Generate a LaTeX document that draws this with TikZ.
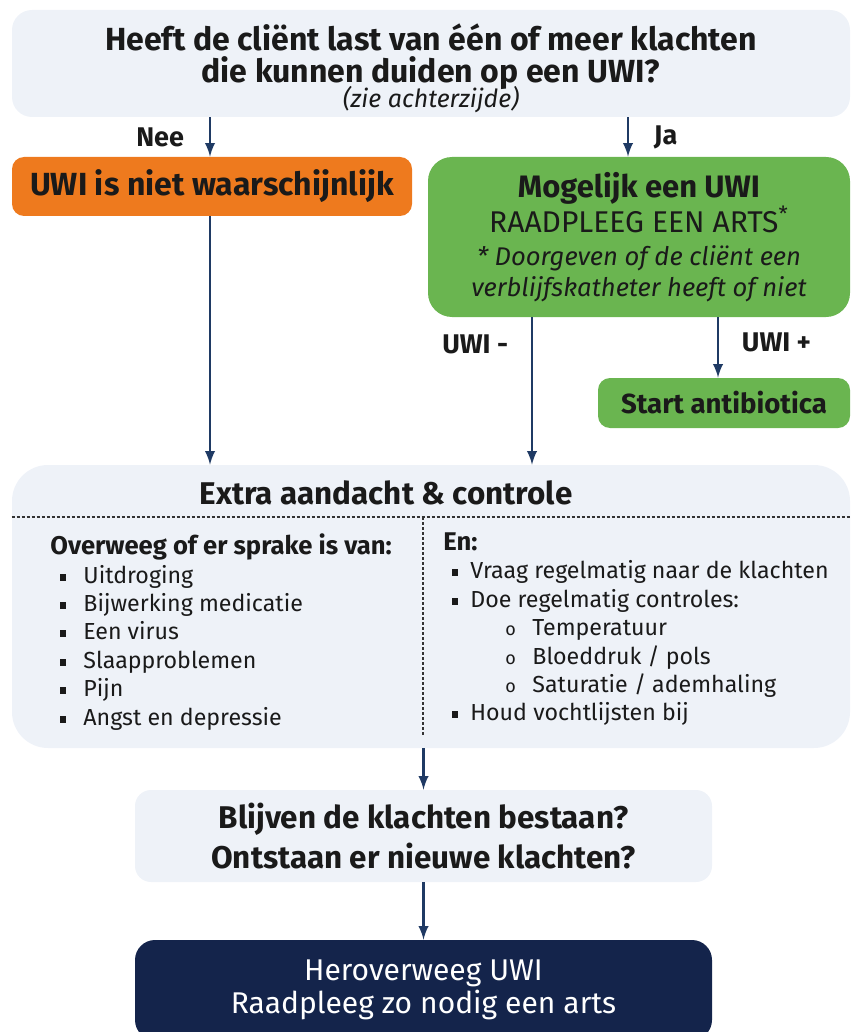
\documentclass[tikz,border=0pt]{standalone}
\usepackage{fontspec}
\setmainfont{Fira Sans}
\usepackage{tikz}
\usetikzlibrary{positioning}
\definecolor{lichtblauw}{HTML}{EEF2F8}
\definecolor{oranje}{HTML}{EE7A1E}
\definecolor{groen}{HTML}{6AB550}
\definecolor{donkerblauw}{HTML}{14244B}
\definecolor{pijlkleur}{HTML}{1F3A64}
\definecolor{tekst}{HTML}{1A1A1A}
\tikzset{
  >=latex,
}
\tikzstyle{blok}=[rounded corners=10pt,inner sep=0pt,align=center,text=tekst]
\tikzstyle{lichtblok}=[blok,fill=lichtblauw]
\tikzstyle{groenblok}=[blok,fill=groen]
\tikzstyle{pijl}=[->,line width=1.3pt,pijlkleur]
\tikzstyle{keuze}=[font=\fontsize{13.5}{14}\selectfont\bfseries,text=tekst]
\tikzstyle{lijst}=[anchor=west,inner sep=0pt,text height=8pt,text depth=2.5pt,
  font=\fontsize{11.6}{14}\selectfont,text=tekst]
\tikzstyle{stippel}=[line width=.6pt,gray!40!black,dash pattern=on 1.5pt off 1pt]
\newcommand{\blokje}[1][11.5pt]{\makebox[#1][l]{\rule[1.5pt]{3pt}{3.5pt}}}
\newcommand{\rondje}{\makebox[13.5pt][l]{\fontsize{9}{10}\selectfont o}}

\begin{document}
\begin{tikzpicture}[x=0.5pt,y=-0.5pt]
  \useasboundingbox (0,0) rectangle (855,1032);

  % vraag bovenaan
  \node[lichtblok,minimum width=419pt,minimum height=53.5pt] (vraag) at (431,63.5) {};
  \node[align=center,text=tekst,font=\fontsize{16}{16}\selectfont\bfseries] (vraagtekst) at (431,57)
    {Heeft de cliënt last van één of meer klachten\\die kunnen duiden op een UWI?};
  \node[text=tekst,font=\fontsize{12.5}{13}\selectfont\itshape] (zie) at (431,100) {(zie achterzijde)};

  % nee / ja
  \node[blok,fill=oranje,rounded corners=6pt,minimum width=200pt,minimum height=29.5pt,
    font=\fontsize{16}{18}\selectfont\bfseries] (nietuwi) at (212,186.5) {UWI is niet waarschijnlijk};
  \node[groenblok,rounded corners=12pt,minimum width=211pt,minimum height=80pt,
    font=\fontsize{15}{15.5}\selectfont] (mogelijk) at (639,237)
    {{\fontsize{15.5}{15.5}\selectfont\bfseries Mogelijk een UWI}\\RAADPLEEG EEN ARTS\textsuperscript{*}\\[1pt]
     {\fontsize{12.8}{14}\selectfont\itshape * Doorgeven of de cliënt een}\\
     {\fontsize{12.8}{14}\selectfont\itshape verblijfskatheter heeft of niet}};
  \node[groenblok,rounded corners=6pt,minimum width=126pt,minimum height=25pt,
    font=\fontsize{13.8}{15}\selectfont\bfseries] (antibiotica) at (724,403) {Start antibiotica};

  % extra aandacht
  \node[lichtblok,rounded corners=18pt,minimum width=419pt,minimum height=141.5pt] (extra) at (431,606.5) {};
  \node[text=tekst,font=\fontsize{15.7}{17}\selectfont\bfseries] (extratitel) at (386,493) {Extra aandacht \& controle};
  \draw[stippel] (extra.west |- 0,517) -- (extra.east |- 0,517);
  \draw[stippel] (423,517) -- (423,735);

  \node[lijst,font=\fontsize{12.8}{14}\selectfont\bfseries] (overweeg) at (50,549) {Overweeg of er sprake is van:};
  \foreach \y/\punt in {578/Uitdroging,606/Bijwerking medicatie,634/Een virus,
                        663/Slaapproblemen,691/Pijn,720/Angst en depressie}
    \node[lijst] at (60,\y) {\blokje\punt};

  \node[lijst,font=\fontsize{12.8}{14}\selectfont\bfseries] (en) at (443,545) {En:};
  \node[lijst] (vraag1) at (452,573) {\blokje[9pt]Vraag regelmatig naar de klachten};
  \node[lijst] (doe) at (452,602) {\blokje[9pt]Doe regelmatig controles:};
  \foreach \y/\punt in {630/{Temperatuur},659/{Bloeddruk / pols},687/{Saturatie / ademhaling}}
    \node[lijst] at (505,\y) {\rondje\punt};
  \node[lijst] (houd) at (452,715) {\blokje[9pt]Houd vochtlijsten bij};

  % onderaan
  \node[lichtblok,rounded corners=8pt,minimum width=288.5pt,minimum height=46pt,
    font=\fontsize{15.7}{20}\selectfont\bfseries] (blijven) at (423.5,836)
    {Blijven de klachten bestaan?\\Ontstaan er nieuwe klachten?};
  \node[blok,fill=donkerblauw,text=white,minimum width=288.5pt,minimum height=50pt,
    font=\fontsize{15}{16.5}\selectfont] (herover) at (423.5,990)
    {Heroverweeg UWI\\Raadpleeg zo nodig een arts};

  % pijlen
  \draw[pijl] ([xshift=-1pt]nietuwi.north |- vraag.south) -- node[keuze,left=9pt]{Nee} ([xshift=-1pt]nietuwi.north);
  \draw[pijl] ([xshift=-5.5pt]mogelijk.north |- vraag.south) -- node[keuze,right=9pt]{Ja} ([xshift=-5.5pt]mogelijk.north);
  \draw[pijl] ([xshift=-1pt]nietuwi.south) -- ([xshift=-1pt]nietuwi.south |- extra.north);
  \draw[pijl] ([xshift=-53.5pt]mogelijk.south) -- node[keuze,left=8pt,pos=.18]{UWI -} ([xshift=-53.5pt]mogelijk.south |- extra.north);
  \draw[pijl] ([xshift=-3pt]antibiotica.north |- mogelijk.south) -- node[keuze,right=8pt,pos=.42]{UWI +} ([xshift=-3pt]antibiotica.north);
  \draw[pijl] (extra.south -| blijven.north) -- (blijven.north);
  \draw[pijl] (blijven.south) -- (herover.north);
\end{tikzpicture}
\end{document}
